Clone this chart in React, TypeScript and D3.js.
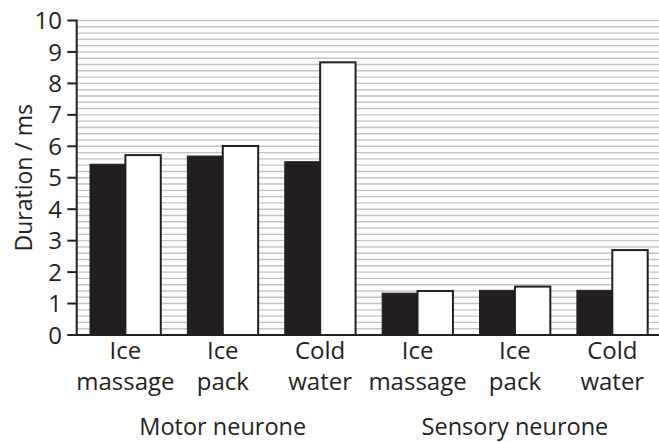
import React from "react";
import * as d3 from "d3";

const neurones = ["Motor neurone", "Sensory neurone"];
const treatments = [["Ice", "massage"], ["Ice", "pack"], ["Cold", "water"]];
const seriesA = [5.43, 5.69, 5.51, 1.33, 1.42, 1.42];
const seriesB = [5.72, 6.01, 8.67, 1.40, 1.54, 2.70];
const yTicks = [0, 1, 2, 3, 4, 5, 6, 7, 8, 9, 10];

const W = 659;
const H = 442;
const ink = "#231f20";
const font = "'Open Sans', sans-serif";

export default function App() {
  const groups = neurones.flatMap((n, i) => treatments.map((t, j) => `${i}-${j}`));
  const left = 76.7;
  const x0 = d3.scaleBand<string>().domain(groups).range([left, 661]).padding(0);
  const bw = x0.bandwidth();
  const x1 = d3.scaleBand<string>().domain(["a", "b"]).range([13.3, bw - 13.3]).padding(0);
  const y = d3.scaleLinear().domain([0, 10]).range([335, 20.5]);
  const grid = d3.range(1, 51).map((i) => i * 0.2);

  return (
    <svg width={W} height={H} style={{ position: "absolute", left: 0, top: 0, background: "#fff" }} fontFamily={font}>
      {grid.map((g, i) => (
        <line key={i} x1={left} x2={W} y1={y(g)} y2={y(g)} stroke="#c4c4c4" strokeWidth={1.4} />
      ))}
      {groups.map((g, i) => (
        <g key={g} transform={`translate(${x0(g)},0)`}>
          <rect x={x1("a")} y={y(seriesA[i])} width={x1.bandwidth()} height={y(0) - y(seriesA[i])} fill={ink} stroke={ink} strokeWidth={1} />
          <rect x={x1("b")} y={y(seriesB[i])} width={x1.bandwidth()} height={y(0) - y(seriesB[i])} fill="#fff" stroke={ink} strokeWidth={2} />
        </g>
      ))}
      {/* axes */}
      <line x1={left} x2={left} y1={y(10) - 1} y2={y(0) + 1} stroke={ink} strokeWidth={2} />
      <line x1={left} x2={W} y1={y(0)} y2={y(0)} stroke={ink} strokeWidth={2} />
      {yTicks.map((t) => (
        <g key={t}>
          <line x1={67.3} x2={left} y1={y(t)} y2={y(t)} stroke={ink} strokeWidth={2} />
          <text x={62} y={y(t)} dy="0.36em" textAnchor="end" fontSize={24} fill={ink}>{t}</text>
        </g>
      ))}
      {groups.map((g, i) => {
        const t = treatments[i % 3];
        const cx = (x0(g) as number) + bw / 2;
        return (
          <text key={g} textAnchor="middle" fontSize={24} fill={ink}>
            <tspan x={cx} y={359}>{t[0]}</tspan>
            <tspan x={cx} y={390}>{t[1]}</tspan>
          </text>
        );
      })}
      {neurones.map((n, i) => {
        const g = groups[i * 3 + 1];
        const cx = (x0(g) as number) + bw / 2;
        return (
          <text key={n} x={cx} y={435} textAnchor="middle" fontSize={23.5} fill={ink}>{n}</text>
        );
      })}
      <text transform={`translate(32,${(y(0) + y(10)) / 2}) rotate(-90)`} textAnchor="middle" fontSize={23} fill={ink}>
        Duration / ms
      </text>
    </svg>
  );
}
